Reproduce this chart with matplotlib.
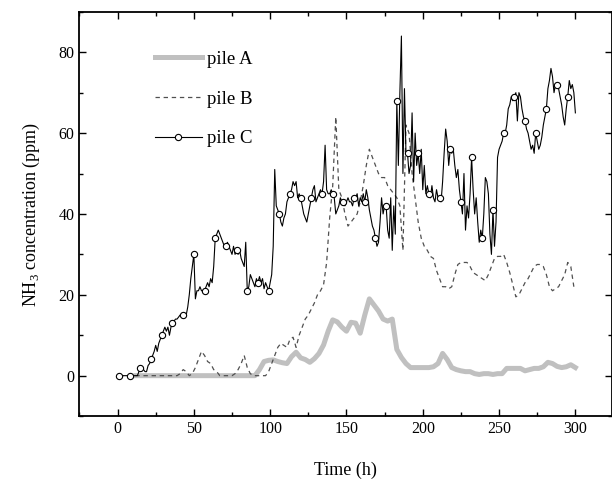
import numpy as np
import matplotlib
matplotlib.use('Agg')
import matplotlib.pyplot as plt
from matplotlib.ticker import MultipleLocator

# fonte parecida com Times
plt.rcParams['font.family'] = 'Liberation Serif'
plt.rcParams['mathtext.fontset'] = 'custom'
plt.rcParams['mathtext.rm'] = 'Liberation Serif'

# pile C: uma leitura por hora (t = 1..300)
pilha_c = [
    0, 0, 0, 0, 0, 0, 0,
    0, 0, 0, 0, 0, 0, 1,
    2, 2, 1.5, 1, 1, 2.5, 3,
    4, 5, 6, 7.5, 6, 8, 9,
    10, 11, 12, 11, 12, 10, 12,
    13, 13.5, 14, 14, 14.5, 15, 15,
    15, 15, 15, 17, 20, 24, 27,
    30, 19, 21, 21, 22, 21, 21,
    21, 22, 23, 22, 24, 23, 27,
    34, 35, 36, 35, 34, 33, 32,
    32, 33, 32, 31, 30, 32, 30,
    31, 30, 31, 29, 28, 27, 33,
    21, 22, 25, 24, 23, 22, 24,
    23, 24.5, 23, 24, 21.5, 23, 22,
    21, 23, 25, 32, 51, 42, 41,
    40, 38, 37, 39, 40, 43, 44,
    45, 46, 48, 47, 48, 44, 45,
    44, 42, 40, 39, 38, 40, 42,
    44, 46, 47, 43, 44, 45, 46,
    45, 48, 57, 46, 45, 45, 46,
    45, 44, 40, 41, 42, 44, 43,
    43, 42, 43, 44, 43, 43, 42,
    44, 44, 45, 42, 44, 43, 45,
    43, 46, 44, 41, 39, 37, 36,
    34, 32, 33, 38, 44, 40, 42,
    42, 36, 34, 44, 31, 42, 35,
    68, 52, 70, 84, 50, 71, 55,
    55, 50, 52, 65, 48, 60, 52,
    55, 50, 56, 46, 52, 45, 47,
    45, 44, 47, 44, 43, 46, 44,
    44, 43, 48, 55, 61, 58, 52,
    56, 55, 56, 52, 49, 51, 46,
    43, 40, 50, 36, 42, 39, 45,
    54, 46, 40, 44, 38, 33, 36,
    34, 40, 49, 48, 45, 35, 30,
    41, 32, 38, 54, 56, 57, 58,
    60, 60, 62, 66, 67, 69, 68,
    69, 70, 63, 70, 69, 66, 64,
    63, 61, 60, 58, 56, 57, 55,
    60, 58, 56, 57, 59, 62, 64,
    66, 71, 73, 76, 74, 70, 72,
    72, 71, 69, 67, 64, 62, 66,
    69, 73, 71, 72, 70, 65,
]
tempo_c = np.arange(1, len(pilha_c) + 1)

# pile B: a cada 2 h (t = 1, 3, ..., 299)
pilha_b = [
    0, 0, 0, 0, 0, 0, 0, 0, 0, 0,
    0, 0, 0, 0, 0, 0, 0, 0, 0, 0,
    0.5, 1.5, 1, 0, 0.5, 2, 4, 6, 5, 3.5,
    3, 1.5, 1, 0, 0, 0, 0, 0, 0.5, 1.5,
    3, 5, 2, 0.5, 0, 0, 0, 0, 0, 1,
    3, 5, 7, 8, 7.5, 7, 9, 9.5, 7, 10,
    12, 14, 15, 16.5, 18, 20, 21, 22.5, 28, 39,
    47, 64, 46, 44, 40, 37, 38, 39, 40, 43,
    47, 52, 56, 54, 52, 50, 49, 49, 47, 46,
    45, 44, 42, 31, 62, 60, 50, 44, 38, 34,
    32, 31, 29.5, 29, 26, 24, 22, 22, 21.5, 22,
    25, 27.5, 28, 28, 28, 27, 25.5, 25, 24.5, 24,
    23.5, 25, 27, 29, 29.5, 29.5, 30, 28, 25.5, 22.5,
    19.5, 20, 21.5, 23, 24, 25.5, 27, 27.5, 27.5, 27,
    25, 22, 21, 21.5, 22, 23.5, 25, 28, 27, 22,
]
tempo_b = 1 + 2 * np.arange(len(pilha_b))

# pile A: a cada 3 h a partir de t = 12
pilha_a = [0] * 26 + [
    0, 1.5, 3.5, 3.8, 3.9, 3.5, 3.2, 3, 4.7, 5.8,
    4.4, 4, 3.3, 4.2, 5.5, 7.6, 11, 13.8, 13.3, 12,
    11, 13.2, 13, 10.5, 15, 19, 17.5, 16, 14, 13.5,
    14, 6.5, 4.5, 3, 2, 2, 2, 2, 2, 2.2,
    3, 5.5, 4, 2, 1.5, 1.2, 1, 1, 0.5, 0.3,
    0.5, 0.5, 0.3, 0.5, 0.5, 1.8, 1.8, 1.8, 1.8, 1.2,
    1.5, 1.8, 1.8, 2.2, 3.3, 3, 2.3, 2, 2.2, 2.7,
    2,
]
tempo_a = 12 + 3 * np.arange(len(pilha_a))

fig = plt.figure(figsize=(6.12, 4.79), dpi=100)
ax = fig.add_axes([79.4 / 612, 62.9 / 479, 532.6 / 612, 404.3 / 479])

ax.plot(tempo_a, pilha_a, color='#c0c0c0', lw=3.6, label='pile A', zorder=2)
ax.plot(tempo_b, pilha_b, color='#505050', lw=0.9, ls=(0, (3.5, 3)), label='pile B', zorder=3)
ax.plot(tempo_c, pilha_c, color='black', lw=0.8, marker='o', markersize=4.5,
        markerfacecolor='white', markeredgecolor='black', markeredgewidth=0.8,
        markevery=7, label='pile C', zorder=4)

ax.set_xlim(-25, 324)
ax.set_ylim(-10, 90)
ax.xaxis.set_major_locator(MultipleLocator(50))
ax.xaxis.set_minor_locator(MultipleLocator(25))
ax.yaxis.set_major_locator(MultipleLocator(20))
ax.yaxis.set_minor_locator(MultipleLocator(10))
ax.set_yticks([0, 20, 40, 60, 80])
ax.tick_params(which='both', direction='in', top=True, right=True, labelsize=11.5)
ax.tick_params(which='major', length=5, width=1)
ax.tick_params(which='minor', length=3, width=1)
for s in ax.spines.values():
    s.set_linewidth(1.3)

ax.set_xlabel('Time (h)', fontsize=13, labelpad=18)
ax.set_ylabel('NH$_{3}$ concentration (ppm)', fontsize=13, labelpad=12)

ax.legend(loc='upper left', bbox_to_anchor=(0.11, 0.945), frameon=False, fontsize=13.5,
          handlelength=2.5, handletextpad=0.3, labelspacing=1.2)

fig.savefig('out.png', dpi=100)
